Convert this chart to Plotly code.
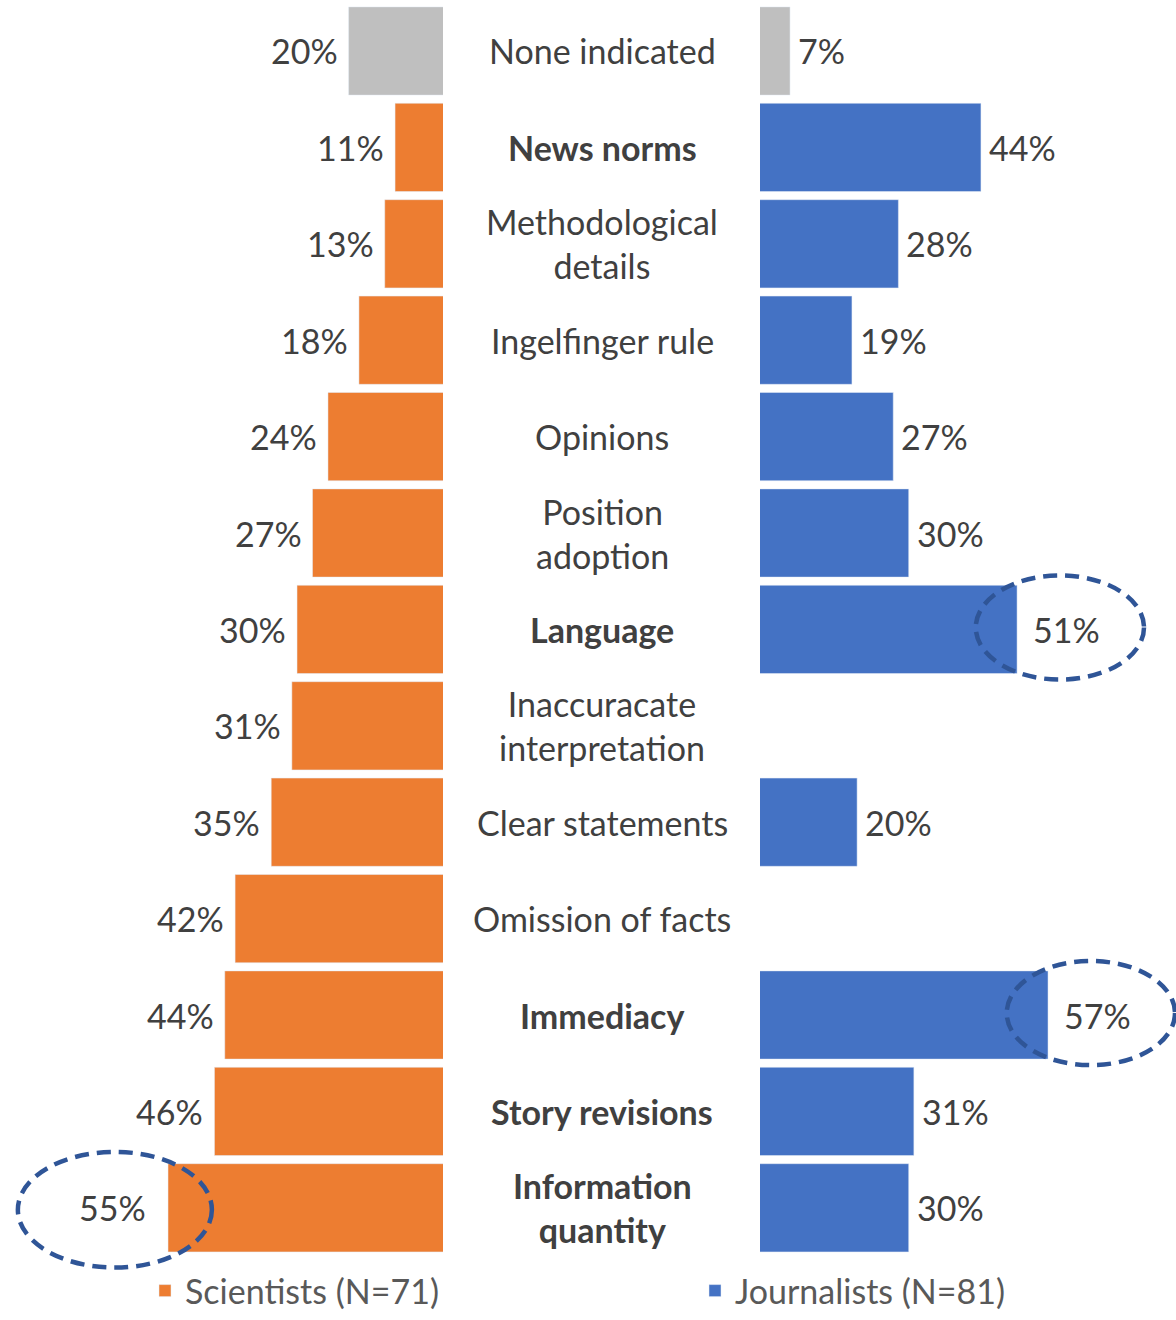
import plotly.graph_objects as go

categories = ["None indicated", "News norms", "Methodological<br>details", "Ingelfinger rule",
              "Opinions", "Position<br>adoption", "Language", "Inaccuracate<br>interpretation",
              "Clear statements", "Omission of facts", "Immediacy", "Story revisions",
              "Information<br>quantity"]
bold_cats = ["News norms", "Language", "Immediacy", "Story revisions", "Information<br>quantity"]
scientists = [20, 11, 13, 18, 24, 27, 30, 31, 35, 42, 44, 46, 55]
journalists = [7, 44, 28, 19, 27, 30, 51, None, 20, None, 57, 31, 30]
highlight_sci = ["Information<br>quantity"]
highlight_jour = ["Language", "Immediacy"]

ORANGE = "#ED7D31"
BLUE = "#4472C4"
GRAY = "#BFBFBF"
TXT = "#404040"
ELL = "#2F5597"
FONT = "Lato"
FS = 34

W, H = 1176, 1320
left_end_px, right_start_px = 443, 760
px_per_pct = 5.16
left_min, right_min = 1.71, 1.18
row0_px, pitch_px = 51, 96.4
n = len(categories)
y_pad_top, y_pad_bot = 0.0, 0.25
y_top_px = row0_px - pitch_px * (0.5 + y_pad_top)
y_bot_px = row0_px + pitch_px * (n - 0.5 + y_pad_bot)

fig = go.Figure()
keys = list(range(n))
BW = 0.915
fig.add_trace(go.Bar(y=[keys[0]], x=[scientists[0]], orientation="h", marker_color=GRAY,
                     width=BW, xaxis="x", yaxis="y", showlegend=False, hoverinfo="skip"))
fig.add_trace(go.Bar(y=keys[1:][::-1], x=scientists[1:][::-1], orientation="h", marker_color=ORANGE,
                     width=BW, xaxis="x", yaxis="y", name="Scientists (N=71)", legend="legend"))
fig.add_trace(go.Bar(y=[keys[0]], x=[journalists[0]], orientation="h", marker_color=GRAY,
                     width=BW, xaxis="x2", yaxis="y", showlegend=False, hoverinfo="skip"))
fig.add_trace(go.Bar(y=keys[1:][::-1], x=journalists[1:][::-1], orientation="h", marker_color=BLUE,
                     width=BW, xaxis="x2", yaxis="y", name="Journalists (N=81)", legend="legend2"))

annotations = []
shapes = []
ell_line = dict(color=ELL, width=4.5, dash="14px,8px")
for i, cat in enumerate(categories):
    txt = f"<b>{cat}</b>" if cat in bold_cats else cat
    annotations.append(dict(x=602 / W, xref="paper", y=i, yref="y", text=txt, showarrow=False,
                            font=dict(family=FONT, size=FS, color=TXT), align="center",
                            xanchor="center", yanchor="middle"))
    s = scientists[i]
    hs = cat in highlight_sci
    annotations.append(dict(x=s, xref="x", y=i, yref="y", text=f"{s}%", showarrow=False,
                            font=dict(family=FONT, size=FS, color=TXT),
                            xanchor="right", yanchor="middle", xshift=-(20 if hs else 9)))
    if hs:
        shapes.append(dict(type="circle", xref="x", yref="y", x0=s + 29.1, x1=s - 8.5,
                           y0=i - 0.58, y1=i + 0.62, line=ell_line))
    j = journalists[i]
    if j is not None:
        hj = cat in highlight_jour
        annotations.append(dict(x=j, xref="x2", y=i, yref="y", text=f"{j}%", showarrow=False,
                                font=dict(family=FONT, size=FS, color=TXT),
                                xanchor="left", yanchor="middle", xshift=(14 if hj else 6)))
        if hj:
            shapes.append(dict(type="circle", xref="x2", yref="y", x0=j - 8.0, x1=j + 24.6,
                               y0=i - 0.56, y1=i + 0.52, line=ell_line))

legend_style = dict(yanchor="bottom", xanchor="left", bgcolor="rgba(0,0,0,0)", itemwidth=30,
                    font=dict(family=FONT, size=FS, color="#595959"))
fig.update_layout(
    width=W, height=H, margin=dict(l=0, r=0, t=0, b=0, autoexpand=False),
    plot_bgcolor="white", paper_bgcolor="white",
    barmode="overlay",
    xaxis=dict(domain=[0, left_end_px / W],
               range=[left_min + left_end_px / px_per_pct, left_min],
               visible=False, anchor="y"),
    xaxis2=dict(domain=[right_start_px / W, 1],
                range=[right_min, right_min + (W - right_start_px) / px_per_pct],
                visible=False, anchor="y"),
    yaxis=dict(domain=[1 - y_bot_px / H, 1 - y_top_px / H],
               range=[n - 0.5 + y_pad_bot, -0.5 - y_pad_top], visible=False),
    legend=dict(x=145 / W, y=0, **legend_style),
    legend2=dict(x=695 / W, y=0, **legend_style),
    annotations=annotations, shapes=shapes,
    showlegend=True,
)

fig.write_html("out.html")
